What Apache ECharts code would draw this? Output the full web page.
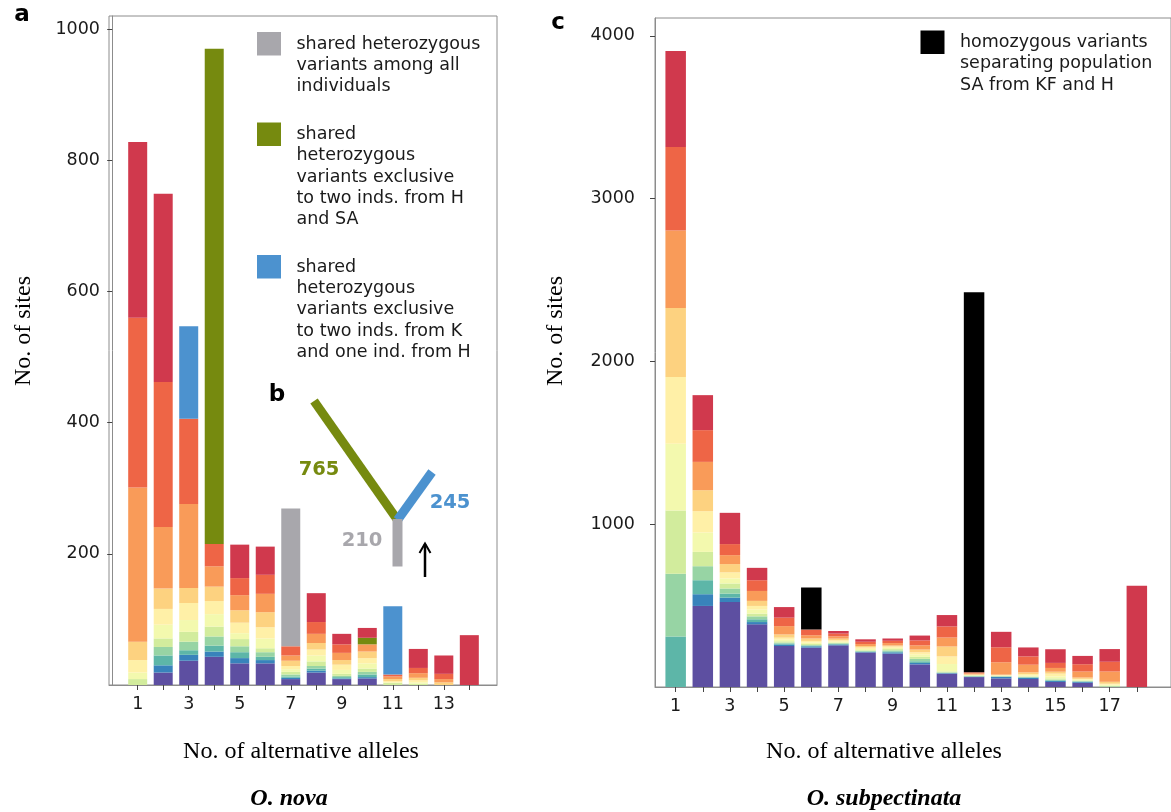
<!DOCTYPE html>
<html>
<head>
<meta charset="utf-8">
<script src="https://cdn.jsdelivr.net/npm/echarts@6/dist/echarts.min.js"></script>
<style>
  html, body { margin: 0; padding: 0; background: #ffffff; }
  #chart { width: 1171px; height: 812px; }
</style>
</head>
<body>
<div id="chart"></div>
<script>
// ---------- O. nova (panel a): sites per number of alternative alleles ----------
const novaAlleles = [1, 2, 3, 4, 5, 6, 7, 8, 9, 10, 11, 12, 13, 14];
// one array per colour level of the stack (bottom level first)
const novaL0  = [0, 19, 37, 43, 33, 33, 9, 19, 9, 10, 0, 0, 0, 0];
const novaL1  = [0, 11, 9, 8, 8, 5, 2, 3, 1, 2, 0, 0, 0, 0];
const novaL2  = [0, 15, 7, 9, 9, 5, 2, 3, 2, 4, 0, 0, 0, 0];
const novaL3  = [0, 13, 13, 14, 9, 7, 3, 4, 2, 4, 0, 0, 0, 0];
const novaL4  = [9, 13, 15, 15, 11, 6, 4, 7, 3, 5, 3, 2, 0, 0];
const novaL5  = [10, 21, 18, 19, 9, 15, 4, 9, 6, 8, 1, 2, 0, 0];
const novaL6  = [19, 24, 26, 20, 16, 17, 5, 9, 8, 8, 2, 3, 0, 0];
const novaL7  = [28, 31, 23, 22, 19, 23, 8, 10, 7, 10, 3, 4, 4, 0];
const novaL8  = [235, 94, 128, 31, 23, 28, 8, 14, 11, 11, 4, 7, 5, 0];
const novaL9  = [259, 221, 130, 34, 26, 29, 14, 18, 13, 0, 3, 8, 8, 0];
const novaL10 = [268, 287, 0, 0, 51, 43, 0, 44, 16, 15, 0, 29, 28, 76];
// highlighted variant classes: [alleles, stack level, sites]
const novaSharedAll = [[7, 10, 210]];
const novaSharedHSA = [[4, 10, 755], [10, 9, 10]];
const novaSharedKH  = [[3, 10, 141], [11, 10, 104]];
const novaTicks  = [1, 2, 3, 4, 5, 6, 7, 8, 9, 10, 11, 12, 13, 14];
const novaLabels = [1, 3, 5, 7, 9, 11, 13];
const novaYLabels = [200, 400, 600, 800, 1000];

// ---------- O. subpectinata (panel c) ----------
const subAlleles = [1, 2, 3, 4, 5, 6, 7, 8, 9, 10, 11, 12, 13, 14, 15, 16, 17, 18];
const subL0  = [0, 498, 522, 385, 252, 242, 256, 212, 205, 139, 82, 61, 53, 49, 31, 26, 0, 0];
const subL1  = [0, 72, 27, 14, 9, 8, 5, 3, 8, 9, 3, 2, 9, 8, 6, 6, 0, 0];
const subL2  = [311, 86, 25, 17, 6, 4, 4, 3, 6, 10, 2, 2, 2, 2, 4, 2, 0, 0];
const subL3  = [385, 86, 31, 18, 6, 4, 4, 4, 6, 15, 3, 3, 2, 3, 4, 2, 4, 0];
const subL4  = [389, 88, 31, 17, 8, 6, 4, 4, 8, 12, 6, 3, 3, 3, 8, 4, 4, 0];
const subL5  = [410, 119, 31, 25, 10, 9, 6, 8, 8, 14, 45, 2, 2, 6, 12, 5, 6, 0];
const subL6  = [409, 131, 37, 22, 12, 10, 8, 9, 8, 14, 47, 2, 2, 9, 17, 5, 6, 0];
const subL7  = [424, 129, 51, 31, 20, 15, 10, 9, 6, 17, 61, 3, 3, 10, 12, 8, 12, 0];
const subL8  = [477, 174, 55, 61, 51, 20, 14, 12, 15, 26, 55, 6, 76, 47, 23, 37, 63, 0];
const subL9  = [512, 195, 68, 66, 52, 35, 17, 14, 14, 30, 68, 6, 92, 51, 31, 45, 60, 0];
const subL10 = [590, 215, 192, 76, 65, 0, 16, 15, 14, 30, 70, 0, 95, 55, 84, 51, 78, 622];
const subHomozygous = [[6, 10, 258], [12, 10, 2335]];
const subTicks  = [1, 2, 3, 4, 5, 6, 7, 8, 9, 10, 11, 12, 13, 14, 15, 16, 17, 18];
const subLabels = [1, 3, 5, 7, 9, 11, 13, 15, 17];
const subYLabels = [1000, 2000, 3000, 4000];

// ---------- styling ----------
const levelColors = ['#5d4fa1', '#3883bb', '#5db6a8', '#97d4a4', '#d2ec9d', '#f3f9ae',
                     '#fff0a7', '#fdd280', '#f99b59', '#ee6546', '#d0394d'];
const COL_ALL = '#a8a7ac', COL_HSA = '#768a0f', COL_KH = '#4c92cf', COL_HOM = '#000000';
const SANS = '"DejaVu Sans", sans-serif';
const SERIF = '"Liberation Serif", "DejaVu Serif", serif';

// Each stack level becomes one bar series; item tuples are [sites, alleles] so that
// the stacked dimension is the site count (encoded on y).
function stackSeries(levels, highlights, alleles, axisIndex, stackName, barWidth) {
  return levels.map((vals, L) => ({
    type: 'bar',
    xAxisIndex: axisIndex,
    yAxisIndex: axisIndex,
    stack: stackName,
    barWidth: barWidth,
    silent: true,
    encode: { x: 1, y: 0 },
    itemStyle: { color: levelColors[L] },
    data: vals.map((v, i) => {
      for (const h of highlights) {
        const hit = h.entries.find(e => e[0] === alleles[i] && e[1] === L);
        if (hit) return { value: [v + hit[2], alleles[i]], itemStyle: { color: h.color } };
      }
      return [v, alleles[i]];
    })
  }));
}

const total = entries => entries.reduce((s, e) => s + e[2], 0);

const novaSeries = stackSeries(
  [novaL0, novaL1, novaL2, novaL3, novaL4, novaL5, novaL6, novaL7, novaL8, novaL9, novaL10],
  [{ color: COL_ALL, entries: novaSharedAll },
   { color: COL_HSA, entries: novaSharedHSA },
   { color: COL_KH, entries: novaSharedKH }],
  novaAlleles, 0, 'nova', 19);
const subSeries = stackSeries(
  [subL0, subL1, subL2, subL3, subL4, subL5, subL6, subL7, subL8, subL9, subL10],
  [{ color: COL_HOM, entries: subHomozygous }],
  subAlleles, 1, 'sub', 20.5);

function xAxisFor(grid, min, max, ticks, labels) {
  return {
    type: 'value', gridIndex: grid, min: min, max: max,
    splitLine: { show: false },
    axisLine: { show: true, lineStyle: { color: '#8c8c8c', width: 1 } },
    axisTick: { show: true, length: 5, customValues: ticks, lineStyle: { color: '#444' } },
    axisLabel: { customValues: labels, margin: 10, color: '#1a1a1a', fontSize: 17.5, fontFamily: SANS,
                 formatter: v => String(v) }
  };
}
function yAxisFor(grid, max, labels, margin) {
  return {
    type: 'value', gridIndex: grid, min: 0, max: max,
    splitLine: { show: false },
    axisLine: { show: true, lineStyle: { color: '#8c8c8c', width: 1 } },
    axisTick: { show: true, length: 5, customValues: labels, lineStyle: { color: '#444' } },
    axisLabel: { customValues: labels, margin: margin, color: '#1a1a1a', fontSize: 17.5, fontFamily: SANS,
                 formatter: v => String(v) }
  };
}

function txt(x, y, text, font, fill, rotation) {
  return {
    type: 'text', x: x, y: y, silent: true, rotation: rotation || 0,
    style: { text: text, font: font, fill: fill, align: 'center', verticalAlign: 'middle' }
  };
}
function legendBlock(x, y, color, text) {
  return [
    { type: 'rect', silent: true, shape: { x: x, y: y, width: 24, height: 23.5 }, style: { fill: color } },
    { type: 'text', silent: true, x: x + 39.5, y: y + 1.5,
      style: { text: text, font: '17.5px ' + SANS, fill: '#1a1a1a', align: 'left', verticalAlign: 'top', lineHeight: 21.3 } }
  ];
}

const graphics = [
  // panel letters
  txt(22, 15, 'a', 'bold 23px ' + SANS, '#000'),
  txt(558, 23, 'c', 'bold 23px ' + SANS, '#000'),
  txt(277, 395, 'b', 'bold 23px ' + SANS, '#000'),
  // axis titles
  txt(24, 331, 'No. of sites', '24px ' + SERIF, '#000', Math.PI / 2),
  txt(556, 331, 'No. of sites', '24px ' + SERIF, '#000', Math.PI / 2),
  txt(301, 752, 'No. of alternative alleles', '24px ' + SERIF, '#000'),
  txt(884, 752, 'No. of alternative alleles', '24px ' + SERIF, '#000'),
  // species names
  txt(289, 799, 'O. nova', 'italic bold 24px ' + SERIF, '#000'),
  txt(884, 799, 'O. subpectinata', 'italic bold 24px ' + SERIF, '#000'),
  // legends
  ...legendBlock(257, 32, COL_ALL, 'shared heterozygous\nvariants among all\nindividuals'),
  ...legendBlock(257, 122.5, COL_HSA, 'shared\nheterozygous\nvariants exclusive\nto two inds. from H\nand SA'),
  ...legendBlock(257, 255, COL_KH, 'shared\nheterozygous\nvariants exclusive\nto two inds. from K\nand one ind. from H'),
  ...legendBlock(920.5, 30.5, COL_HOM, 'homozygous variants\nseparating population\nSA from KF and H'),
  // inset b: schematic tree of the shared classes
  { type: 'line', silent: true, shape: { x1: 314, y1: 401, x2: 397.5, y2: 520 },
    style: { stroke: COL_HSA, lineWidth: 9, lineCap: 'butt' } },
  { type: 'line', silent: true, shape: { x1: 397.5, y1: 520, x2: 432, y2: 472 },
    style: { stroke: COL_KH, lineWidth: 9, lineCap: 'butt' } },
  { type: 'rect', silent: true, shape: { x: 392.5, y: 519, width: 10, height: 47.5 }, style: { fill: COL_ALL } },
  txt(319, 470, String(total(novaSharedHSA)), 'bold 19.5px ' + SANS, COL_HSA),
  txt(450, 503, String(total(novaSharedKH)), 'bold 19.5px ' + SANS, COL_KH),
  txt(362, 541, String(total(novaSharedAll)), 'bold 19.5px ' + SANS, COL_ALL),
  { type: 'polyline', silent: true, shape: { points: [[425, 577], [425, 544]] },
    style: { stroke: '#000', lineWidth: 2.5, fill: null } },
  { type: 'polyline', silent: true, shape: { points: [[419.5, 553], [425, 543.5], [430.5, 553]] },
    style: { stroke: '#000', lineWidth: 2, fill: null } }
];

const chart = echarts.init(document.getElementById('chart'), null, { renderer: 'canvas' });
chart.setOption({
  animation: false,
  backgroundColor: '#ffffff',
  grid: [
    { left: 109, top: 16, width: 388, height: 669, show: true, borderColor: '#8c8c8c', borderWidth: 1 },
    { left: 655, top: 18, width: 517, height: 669, show: true, borderColor: '#8c8c8c', borderWidth: 1 }
  ],
  xAxis: [
    xAxisFor(0, -0.125, 15.085, novaTicks, novaLabels),
    xAxisFor(1, 0.238, 0.238 + 517 / 27.18, subTicks, subLabels)
  ],
  yAxis: [
    yAxisFor(0, 1020, novaYLabels, 9),
    yAxisFor(1, 4110, subYLabels, 20)
  ],
  series: [...novaSeries, ...subSeries],
  graphic: { elements: graphics }
});
</script>
</body>
</html>
